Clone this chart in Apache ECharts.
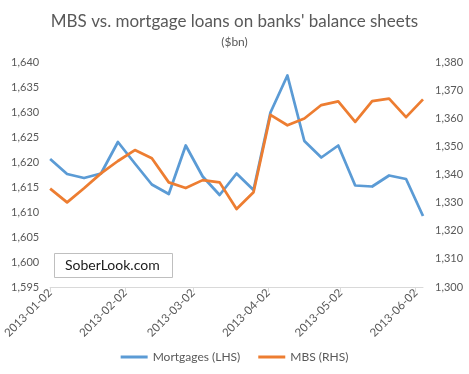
<!DOCTYPE html>
<html><head><meta charset="utf-8">
<script src="https://cdn.jsdelivr.net/npm/echarts@6/dist/echarts.min.js"></script>
<style>html,body{margin:0;padding:0;background:#fff}#c{width:469px;height:374px}</style>
</head><body><div id="c"></div>
<script>
const dates = ['2013-01-02','2013-01-09','2013-01-16','2013-01-23','2013-01-30','2013-02-06','2013-02-13','2013-02-20','2013-02-27','2013-03-06','2013-03-13','2013-03-20','2013-03-27','2013-04-03','2013-04-10','2013-04-17','2013-04-24','2013-05-01','2013-05-08','2013-05-15','2013-05-22','2013-05-29','2013-06-05'];
const mortgages = [1620.6,1617.6,1616.8,1617.7,1624.0,1619.7,1615.5,1613.6,1623.3,1617.1,1613.4,1617.7,1614.4,1629.9,1637.3,1624.2,1620.9,1623.3,1615.3,1615.1,1617.3,1616.6,1609.2];
const mbs = [1335.0,1330.1,1335.1,1340.4,1344.8,1348.7,1345.8,1337.2,1335.2,1338.0,1337.2,1327.7,1333.7,1361.2,1357.5,1359.9,1364.7,1366.0,1358.7,1366.1,1367.0,1360.4,1366.7];
const tickDates = ['2013-01-02','2013-02-02','2013-03-02','2013-04-02','2013-05-02','2013-06-02'];
const leftTicks = {min:1595, max:1640, interval:5};
const rightTicks = {min:1300, max:1380, interval:10};

// day number since epoch (UTC), used as the x value
const D = s => { const p = s.split('-').map(Number); return Math.round(Date.UTC(p[0], p[1]-1, p[2]) / 86400000); };
const dayToStr = n => new Date(n * 86400000).toISOString().slice(0, 10);
const fmt = v => v.toLocaleString('en-US');
const font = 'Lato, "Open Sans", sans-serif';
const grey = '#595959';
const tickVals = tickDates.map(D);
const chart = echarts.init(document.getElementById('c'));
chart.setOption({
  animation:false,
  textStyle:{fontFamily:font},
  title:{text:"MBS vs. mortgage loans on banks' balance sheets", subtext:'($bn)', left:'center', top:8,
    itemGap:6,
    textStyle:{fontFamily:font, fontSize:17, fontWeight:'normal', color:grey},
    subtextStyle:{fontFamily:font, fontSize:12, color:grey}},
  legend:{bottom:6, left:'center', itemWidth:27, itemHeight:3, itemGap:18, icon:'rect',
    textStyle:{fontFamily:font, fontSize:12, color:grey},
    data:['Mortgages (LHS)','MBS (RHS)']},
  grid:{left:43, right:46, top:62, bottom:87},
  xAxis:{type:'value', min:D(dates[0]), max:D(dates[dates.length-1]),
    axisLine:{lineStyle:{color:'#d9d9d9'}},
    axisTick:{show:true, length:5, lineStyle:{color:'#d9d9d9'}, customValues:tickVals},
    axisLabel:{rotate:45, color:grey, fontSize:11.5, fontFamily:font, margin:4, customValues:tickVals,
      formatter:v=>dayToStr(v)},
    splitLine:{show:false}},
  yAxis:[
    {type:'value', min:leftTicks.min, max:leftTicks.max, interval:leftTicks.interval,
     axisLine:{show:false}, axisTick:{show:false}, splitLine:{show:false},
     axisLabel:{color:grey, fontSize:11, fontFamily:font, margin:11, formatter:fmt}},
    {type:'value', min:rightTicks.min, max:rightTicks.max, interval:rightTicks.interval,
     axisLine:{show:false}, axisTick:{show:false}, splitLine:{show:false},
     axisLabel:{color:grey, fontSize:11, fontFamily:font, margin:12, formatter:fmt}}
  ],
  series:[
    {name:'Mortgages (LHS)', type:'line', yAxisIndex:0, showSymbol:false, symbol:'none',
     lineStyle:{color:'#5B9BD5', width:2.75, join:'round'}, itemStyle:{color:'#5B9BD5'},
     data:dates.map((d,i)=>[D(d), mortgages[i]])},
    {name:'MBS (RHS)', type:'line', yAxisIndex:1, showSymbol:false, symbol:'none',
     lineStyle:{color:'#ED7D31', width:2.75, join:'round'}, itemStyle:{color:'#ED7D31'},
     data:dates.map((d,i)=>[D(d), mbs[i]])}
  ],
  graphic:[
    {type:'rect', left:54, top:253, shape:{width:118, height:24},
     style:{fill:'#fff', stroke:'#bfbfbf', lineWidth:1}},
    {type:'text', left:65, top:258, style:{text:'SoberLook.com', font:'14px '+font, fill:'#1a1a1a'}}
  ]
});
</script></body></html>
